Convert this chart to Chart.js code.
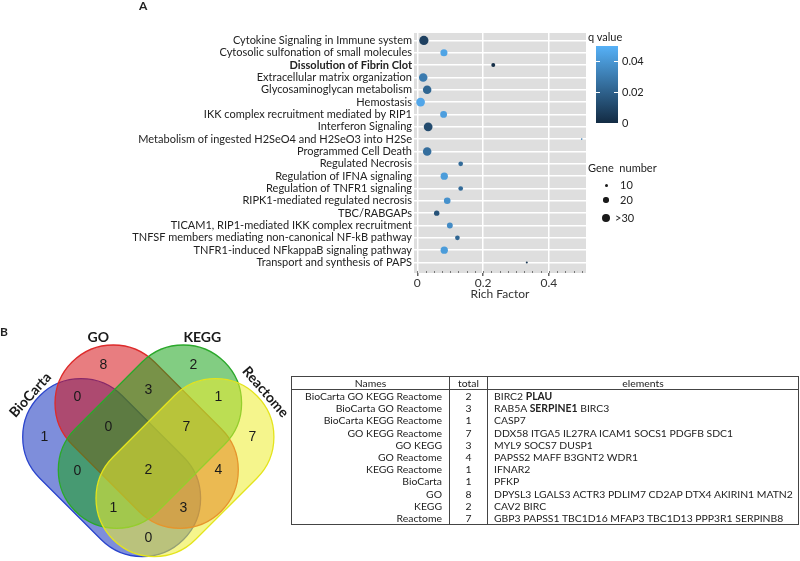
<!DOCTYPE html>
<html><head><meta charset="utf-8">
<script src="https://cdn.jsdelivr.net/npm/chart.js@4.4.0/dist/chart.umd.min.js"></script>
<style>
html,body{margin:0;padding:0;background:#fff;width:800px;height:561px;overflow:hidden;font-family:Lato,sans-serif;color:#222;}
canvas{position:absolute;}
.abs{position:absolute;white-space:nowrap;line-height:1;}
#tbl{position:absolute;left:291px;top:376px;width:507px;border-collapse:collapse;table-layout:fixed;font-family:Lato,sans-serif;font-size:10.4px;color:#222;border:1px solid #444;}
#tbl td,#tbl th{padding:0;height:12.2px;line-height:12.2px;white-space:nowrap;overflow:hidden;font-weight:normal;}
#tbl th{height:12px;line-height:12px;border-bottom:1px solid #444;text-align:center;}
#tbl .c1{text-align:right;padding-right:7px;border-right:1px solid #444;}
#tbl .c2{text-align:center;border-right:1px solid #444;}
#tbl .c3{text-align:left;padding-left:6px;}
</style></head>
<body>
<canvas id="dot" width="800" height="305" style="left:0;top:0"></canvas>
<canvas id="venn" width="300" height="271" style="left:0;top:290px"></canvas>
<div class="abs" style="left:139px;top:0px;font-weight:bold;font-size:12px;">A</div>
<div class="abs" style="left:0px;top:326px;font-weight:bold;font-size:12px;">B</div>
<div id="legend"></div>
<table id="tbl"></table>
<script>
// ---------- Panel A data ----------
const pathways = ["Cytokine Signaling in Immune system","Cytosolic sulfonation of small molecules","Dissolution of Fibrin Clot","Extracellular matrix organization","Glycosaminoglycan metabolism","Hemostasis","IKK complex recruitment mediated by RIP1","Interferon Signaling","Metabolism of ingested H2SeO4 and H2SeO3 into H2Se","Programmed Cell Death","Regulated Necrosis","Regulation of IFNA signaling","Regulation of TNFR1 signaling","RIPK1-mediated regulated necrosis","TBC/RABGAPs","TICAM1, RIP1-mediated IKK complex recruitment","TNFSF members mediating non-canonical NF-kB pathway","TNFR1-induced NFkappaB signaling pathway","Transport and synthesis of PAPS"];
const richFactor = [0.02,0.081,0.231,0.018,0.03,0.01,0.08,0.033,0.5,0.03,0.132,0.082,0.132,0.091,0.059,0.099,0.122,0.082,0.333];
const qValue = [0.008,0.045,0.001,0.030,0.022,0.046,0.043,0.012,0.030,0.025,0.024,0.042,0.024,0.038,0.015,0.036,0.022,0.042,0.005];
const geneNumber = [36,27,14,33,33,34,26,34,4,33,17,28,17,25,20,22,17,28,6];
const boldPathways = ["Dissolution of Fibrin Clot"];
const xTicks = [0,0.2,0.4];
const qTicks = [0,0.02,0.04];
const geneLegend = [10,20,30];
const geneLegendLabels = ["10","20",">30"];

// ---------- Panel B data ----------
const vennSets = ["BioCarta","GO","KEGG","Reactome"];
const vennRegions = ["GO","KEGG","BioCarta","Reactome","BioCarta GO","GO KEGG","KEGG Reactome","BioCarta GO KEGG","GO KEGG Reactome","BioCarta KEGG","BioCarta GO KEGG Reactome","GO Reactome","BioCarta KEGG Reactome","BioCarta GO Reactome","BioCarta Reactome"];
const vennCounts = [8,2,1,7,0,3,1,0,7,0,2,4,1,3,0];
const tableNames = ["BioCarta GO KEGG Reactome","BioCarta GO Reactome","BioCarta KEGG Reactome","GO KEGG Reactome","GO KEGG","GO Reactome","KEGG Reactome","BioCarta","GO","KEGG","Reactome"];
const tableTotals = [2,3,1,7,3,4,1,1,8,2,7];
const tableElements = ["BIRC2 PLAU","RAB5A SERPINE1 BIRC3","CASP7","DDX58 ITGA5 IL27RA ICAM1 SOCS1 PDGFB SDC1","MYL9 SOCS7 DUSP1","PAPSS2 MAFF B3GNT2 WDR1","IFNAR2","PFKP","DPYSL3 LGALS3 ACTR3 PDLIM7 CD2AP DTX4 AKIRIN1 MATN2","CAV2 BIRC","GBP3 PAPSS1 TBC1D16 MFAP3 TBC1D13 PPP3R1 SERPINB8"];
const boldGenes = ["PLAU","SERPINE1"];

// ---------- helpers ----------
const LOW=[0x13,0x2B,0x43], HIGH=[0x56,0xB1,0xF7], QMAX=0.05;
function qColor(q){const t=Math.max(0,Math.min(1,q/QMAX));return 'rgb('+LOW.map((l,i)=>Math.round(l+(HIGH[i]-l)*t)).join(',')+')';}
function geneRadius(g){return 0.12*g+0.3;}

// ---------- Dot plot ----------
const bgPlugin={id:'bg',beforeDraw(ch){const a=ch.chartArea,c=ch.ctx;c.save();c.fillStyle='#dedede';c.fillRect(a.left,a.top,a.right-a.left,a.bottom-a.top);c.restore();},
 afterDraw(ch){const a=ch.chartArea,c=ch.ctx,x=ch.scales.x;c.save();c.strokeStyle='#777';c.lineWidth=1;
  for(let v=0;v<=0.5001;v+=0.025){const px=Math.round(x.getPixelForValue(v))+0.5;c.beginPath();c.moveTo(px,a.bottom-2);c.lineTo(px,a.bottom);c.stroke();}
  c.restore();}};
new Chart(document.getElementById('dot'),{
 type:'scatter',
 data:{datasets:[{data:pathways.map((p,i)=>({x:richFactor[i],y:i})),
   backgroundColor:qValue.map(qColor),borderWidth:0,
   pointRadius:geneNumber.map(geneRadius),pointHoverRadius:geneNumber.map(geneRadius)}]},
 options:{responsive:false,animation:false,events:[],devicePixelRatio:1,
  layout:{padding:{left:0,right:214,top:33,bottom:0}},
  plugins:{legend:{display:false},tooltip:{enabled:false}},
  scales:{
   x:{type:'linear',min:-0.01,max:0.513,
     afterBuildTicks(s){s.ticks=xTicks.map(v=>({value:v}));},
     afterFit(s){s.height=32;},
     border:{display:false},
     grid:{color:'#ffffff',lineWidth:1.5,tickLength:3,tickColor:'#666'},
     ticks:{padding:0,color:'#333',font:{family:'Lato',size:12},callback:v=>String(v)},
     title:{display:true,text:'Rich Factor',color:'#333',font:{family:'Lato',size:12},padding:{top:0,bottom:4}}},
   y:{type:'linear',reverse:true,min:-0.6,max:18.85,
     afterBuildTicks(s){s.ticks=pathways.map((p,i)=>({value:i}));},
     afterFit(s){s.width=414;},
     border:{display:false},
     grid:{color:'#ffffff',lineWidth:1.5,drawTicks:false},
     ticks:{autoSkip:false,padding:2,color:'#222',
       font:c=>({family:'Lato',size:11,weight:boldPathways.includes(pathways[c.index])?'bold':'normal'}),
       callback:v=>pathways[v]}}
  }},
 plugins:[bgPlugin]
});

// ---------- Legends (HTML) ----------
(function(){
 const L=document.getElementById('legend');let h='';
 h+='<div class="abs" style="left:588px;top:31px;font-size:11px;">q value</div>';
 h+='<div class="abs" style="left:596px;top:46px;width:22px;height:77px;background:linear-gradient(to bottom,rgb('+HIGH.join(',')+'),rgb('+LOW.join(',')+'));"></div>';
 const top=46,bot=123;
 qTicks.forEach(q=>{const y=bot-(bot-top)*q/0.0497;
   h+='<div class="abs" style="left:596px;top:'+(y-0.5)+'px;width:4px;height:1px;background:#fff"></div>';
   h+='<div class="abs" style="left:614px;top:'+(y-0.5)+'px;width:4px;height:1px;background:#fff"></div>';
   h+='<div class="abs" style="left:622px;top:'+(y-6)+'px;font-size:11px;">'+(q===0?'0':q.toFixed(2))+'</div>';});
 h+='<div class="abs" style="left:588px;top:162px;font-size:11px;">Gene&nbsp; number</div>';
 const ys=[185,200,218];
 geneLegend.forEach((g,i)=>{const r=geneRadius(g);
   h+='<div class="abs" style="left:'+(606-r)+'px;top:'+(ys[i]-r)+'px;width:'+(2*r)+'px;height:'+(2*r)+'px;border-radius:50%;background:#1a1a1a"></div>';
   h+='<div class="abs" style="left:'+(i===2?615:620)+'px;top:'+(ys[i]-6)+'px;font-size:11px;">'+geneLegendLabels[i]+'</div>';});
 L.innerHTML=h;
})();

// ---------- Venn ----------
const vennLayout={ // venn units (centre of diagram = 0,0)
 r:58.3,
 shapes:{BioCarta:[[-67.3,-33],[-6,28.3]],GO:[[-35,-66.7],[31.7,0]],KEGG:[[35,-66.7],[-31.7,0]],Reactome:[[67.3,-33],[6,28.3]]},
 fill:{BioCarta:'rgba(20,50,190,0.55)',GO:'rgba(213,19,24,0.55)',KEGG:'rgba(28,164,28,0.55)',Reactome:'rgba(237,237,46,0.55)'},
 stroke:{BioCarta:'#2a44cc',GO:'#dd2a2a',KEGG:'#2aa82a',Reactome:'#e4e41c'},
 regionPos:[[-45,-105],[45,-105],[-104,-33],[104,-33],[-71,-73],[0,-80],[70,-73],[-40,-43],[38,-43],[-71,1],[0,0],[70,0],[-35,38],[35,38],[0,68]],
 setLabelPos:{BioCarta:[-118,-75,-48],GO:[-50,-133,0],KEGG:[54,-133,0],Reactome:[117,-78,49]}
};
const vennPlugin={id:'vennShapes',
 beforeDatasetsDraw(ch){const c=ch.ctx,x=ch.scales.x,y=ch.scales.y;
  const rp=x.getPixelForValue(vennLayout.r)-x.getPixelForValue(0);
  c.save();
  vennSets.forEach(s=>{const [p1,p2]=vennLayout.shapes[s];
   const a={x:x.getPixelForValue(p1[0]),y:y.getPixelForValue(p1[1])},b={x:x.getPixelForValue(p2[0]),y:y.getPixelForValue(p2[1])};
   const ang=Math.atan2(b.y-a.y,b.x-a.x);
   c.beginPath();c.arc(a.x,a.y,rp,ang+Math.PI/2,ang+3*Math.PI/2);c.arc(b.x,b.y,rp,ang-Math.PI/2,ang+Math.PI/2);c.closePath();
   c.fillStyle=vennLayout.fill[s];c.fill();c.lineWidth=1.3;c.strokeStyle=vennLayout.stroke[s];c.stroke();});
  c.restore();},
 afterDatasetsDraw(ch){const c=ch.ctx,x=ch.scales.x,y=ch.scales.y;c.save();
  const meta=ch.getDatasetMeta(0);
  c.fillStyle='#1a1a1a';c.font='14px "Liberation Sans", Arial, sans-serif';c.textAlign='center';c.textBaseline='middle';
  meta.data.forEach((pt,i)=>{c.fillText(String(vennCounts[i]),pt.x,pt.y);});
  c.font='bold 14px Lato, sans-serif';
  vennSets.forEach(s=>{const [lx,ly,rot]=vennLayout.setLabelPos[s];c.save();c.translate(x.getPixelForValue(lx),y.getPixelForValue(ly));c.rotate(rot*Math.PI/180);c.fillText(s,0,0);c.restore();});
  c.restore();}
};
new Chart(document.getElementById('venn'),{
 type:'scatter',
 data:{datasets:[{data:vennRegions.map((r,i)=>({x:vennLayout.regionPos[i][0],y:vennLayout.regionPos[i][1]})),pointRadius:0,pointHoverRadius:0}]},
 options:{responsive:false,animation:false,events:[],devicePixelRatio:1,layout:{padding:0},
  plugins:{legend:{display:false},tooltip:{enabled:false}},
  scales:{x:{type:'linear',min:-148.3,max:151.7,display:false},y:{type:'linear',min:-180,max:91,reverse:true,display:false}}},
 plugins:[vennPlugin]
});

// ---------- Table ----------
(function(){
 const esc=s=>s.split(' ').map(w=>boldGenes.includes(w)?'<b>'+w+'</b>':w).join(' ');
 let h='<colgroup><col style="width:158px"><col style="width:38px"><col style="width:311px"></colgroup>';
 h+='<tr><th class="c2" style="border-right:1px solid #444">Names</th><th class="c2">total</th><th style="text-align:center">elements</th></tr>';
 tableNames.forEach((n,i)=>{h+='<tr><td class="c1">'+n+'</td><td class="c2">'+tableTotals[i]+'</td><td class="c3">'+esc(tableElements[i])+'</td></tr>';});
 document.getElementById('tbl').innerHTML=h;
})();
</script>
</body></html>
